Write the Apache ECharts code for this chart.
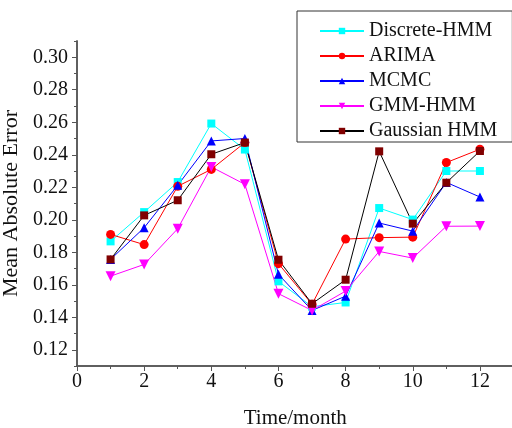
<!DOCTYPE html>
<html>
<head>
<meta charset="utf-8">
<script src="https://cdn.jsdelivr.net/npm/echarts@6/dist/echarts.min.js"></script>
<style>
  html, body { margin: 0; padding: 0; background: #fff; }
  #chart { width: 512px; height: 428px; }
</style>
</head>
<body>
<div id="chart"></div>
<script>
// Monthly mean absolute error of each forecasting model
const months = [1, 2, 3, 4, 5, 6, 7, 8, 9, 10, 11, 12];
const discreteHMM = [0.1867, 0.2047, 0.2232, 0.2592, 0.2432, 0.1621, 0.1465, 0.1491, 0.2072, 0.2001, 0.2300, 0.2300];
const arima       = [0.1910, 0.1847, 0.2206, 0.2310, 0.2475, 0.1730, 0.1480, 0.1881, 0.1890, 0.1893, 0.2352, 0.2434];
const mcmc        = [0.1756, 0.1951, 0.2212, 0.2485, 0.2500, 0.1664, 0.1442, 0.1530, 0.1980, 0.1930, 0.2230, 0.2140];
const gmmHMM      = [0.1653, 0.1725, 0.1945, 0.2325, 0.2218, 0.1545, 0.1442, 0.1561, 0.1805, 0.1764, 0.1960, 0.1961];
const gaussianHMM = [0.1756, 0.2027, 0.2120, 0.2403, 0.2475, 0.1754, 0.1483, 0.1631, 0.2421, 0.1976, 0.2228, 0.2423];

const xMajor = [0, 2, 4, 6, 8, 10, 12];
const xMinor = [1, 3, 5, 7, 9, 11, 13];
const yMajor = [0.12, 0.14, 0.16, 0.18, 0.20, 0.22, 0.24, 0.26, 0.28, 0.30];
const yMinor = [0.11, 0.13, 0.15, 0.17, 0.19, 0.21, 0.23, 0.25, 0.27, 0.29, 0.31];

const FONT = '"Liberation Serif", "Times New Roman", serif';
const AXIS_COLOR = '#555';

const pairs = vals => months.map((m, i) => [m, vals[i]]);
const triDown = 'path://M0,0 L10,0 L5,9 Z';

function makeSeries(name, vals, lineColor, markColor, symbol, size) {
  return {
    name: name,
    type: 'line',
    data: pairs(vals),
    symbol: symbol,
    symbolSize: size,
    lineStyle: { color: lineColor, width: 1 },
    itemStyle: { color: markColor },
    emphasis: { disabled: true },
    animation: false
  };
}

const chart = echarts.init(document.getElementById('chart'), null, { renderer: 'canvas' });

const baseX = {
  type: 'value', min: 0, max: 13, gridIndex: 0, position: 'bottom',
  splitLine: { show: false },
  axisLine: { show: true, lineStyle: { color: AXIS_COLOR, width: 1.5 } }
};
const baseY = {
  type: 'value', min: 0.11, max: 0.31, gridIndex: 0, position: 'left',
  splitLine: { show: false },
  axisLine: { show: true, lineStyle: { color: AXIS_COLOR, width: 1.5 } }
};

chart.setOption({
  backgroundColor: '#fff',
  animation: false,
  textStyle: { fontFamily: FONT },
  grid: { left: 77, top: 41, width: 436.5, height: 325, containLabel: false, outerBoundsMode: 'none' },
  legend: {
    orient: 'vertical',
    left: 297, top: 11,
    padding: [10, 15, 1, 22],
    itemWidth: 44, itemHeight: 8, itemGap: 5,
    borderColor: '#333', borderWidth: 1,
    textStyle: { fontFamily: FONT, fontSize: 20, color: '#111', lineHeight: 20 },
    data: ['Discrete-HMM', 'ARIMA', 'MCMC', 'GMM-HMM', 'Gaussian HMM']
  },
  xAxis: [
    Object.assign({}, baseX, {
      name: 'Time/month', nameLocation: 'middle', nameGap: 42,
      nameTextStyle: { fontFamily: FONT, fontSize: 21, color: '#111' },
      axisTick: { show: true, length: 5, customValues: xMajor, lineStyle: { color: AXIS_COLOR, width: 1 } },
      axisLabel: {
        customValues: xMajor, margin: 6,
        fontFamily: FONT, fontSize: 20, color: '#111'
      }
    }),
    Object.assign({}, baseX, {
      axisTick: { show: true, length: 3, customValues: xMinor, lineStyle: { color: AXIS_COLOR, width: 1 } },
      axisLabel: { show: false }
    })
  ],
  yAxis: [
    Object.assign({}, baseY, {
      name: 'Mean Absolute Error', nameLocation: 'middle', nameGap: 47,
      nameTextStyle: { fontFamily: FONT, fontSize: 22, color: '#111' },
      axisTick: { show: true, length: 5, customValues: yMajor, lineStyle: { color: AXIS_COLOR, width: 1 } },
      axisLabel: {
        customValues: yMajor, margin: 9,
        fontFamily: FONT, fontSize: 20, color: '#111',
        formatter: v => v.toFixed(2)
      }
    }),
    Object.assign({}, baseY, {
      axisTick: { show: true, length: 3, customValues: yMinor, lineStyle: { color: AXIS_COLOR, width: 1 } },
      axisLabel: { show: false }
    })
  ],
  series: [
    makeSeries('Discrete-HMM', discreteHMM, '#00ffff', '#00ffff', 'rect', 8),
    makeSeries('ARIMA', arima, '#ff0000', '#ff0000', 'circle', 9),
    makeSeries('MCMC', mcmc, '#0000ff', '#0000ff', 'triangle', 9),
    makeSeries('GMM-HMM', gmmHMM, '#ff00ff', '#ff00ff', triDown, 10),
    makeSeries('Gaussian HMM', gaussianHMM, '#000000', '#800000', 'rect', 8)
  ]
});
</script>
</body>
</html>
